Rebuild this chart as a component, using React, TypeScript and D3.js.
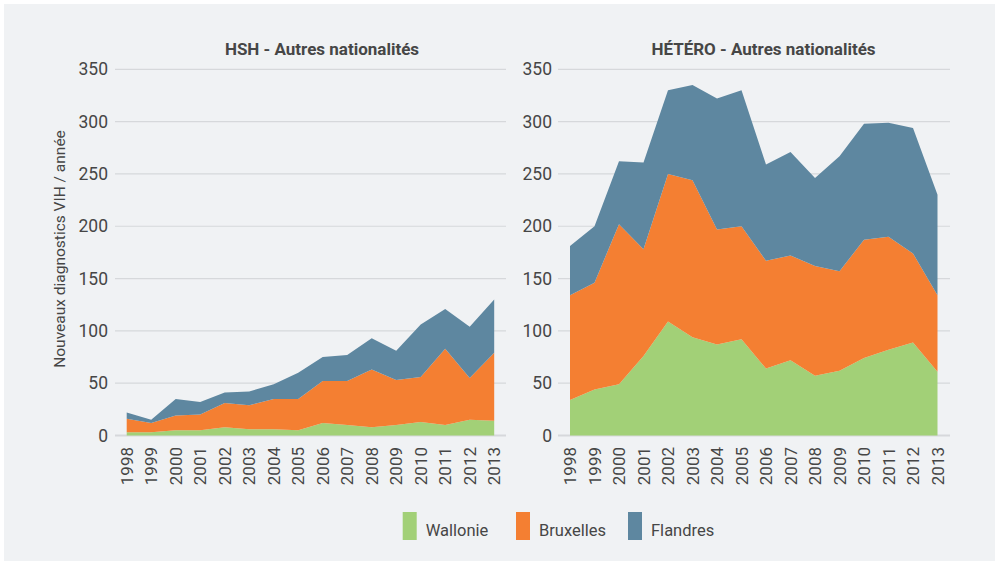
import React from "react";
import * as d3 from "d3";

const years = ["1998", "1999", "2000", "2001", "2002", "2003", "2004", "2005", "2006", "2007", "2008", "2009", "2010", "2011", "2012", "2013"];
const regions = ["Wallonie", "Bruxelles", "Flandres"];
const colors = ["#a2d077", "#f47f32", "#5e87a0"];
const yTicks = [0, 50, 100, 150, 200, 250, 300, 350];

// HSH - Autres nationalités
const hshWallonie = [3, 3, 5, 5, 8, 6, 6, 5, 12, 10, 8, 10, 13, 10, 15, 14];
const hshBruxelles = [13, 9, 14, 15, 23, 23, 29, 30, 40, 42, 55, 43, 43, 73, 40, 65];
const hshFlandres = [6, 3, 16, 12, 10, 13, 14, 25, 23, 25, 30, 28, 50, 38, 49, 51];

// HÉTÉRO - Autres nationalités
const hetWallonie = [34, 44, 49, 76, 109, 94, 87, 92, 64, 72, 57, 62, 74, 82, 89, 61];
const hetBruxelles = [100, 102, 153, 102, 141, 150, 110, 108, 103, 100, 105, 95, 113, 108, 85, 73];
const hetFlandres = [47, 54, 60, 83, 80, 91, 125, 130, 92, 99, 84, 110, 111, 109, 120, 96];

const font = "'Liberation Sans Narrow', 'Roboto', sans-serif";
const textColor = "#464646";

const App = () => {
    const svgRef = React.useRef(null);
    const width = 995;
    const height = 561;

    React.useEffect(() => {
        const svg = d3.select(svgRef.current);
        svg.selectAll("*").remove();

        svg.append("rect")
            .attr("x", 4).attr("y", 4)
            .attr("width", width - 4).attr("height", height - 4)
            .attr("fill", "#f0f2f4");

        const y = d3.scaleLinear().domain([0, 350]).range([435.5, 69.3]);

        const panels = [
            { title: "HSH - Autres nationalités", titleX: 322, x0: 126.7, grid: [115, 506], labelX: 108, data: [hshWallonie, hshBruxelles, hshFlandres] },
            { title: "HÉTÉRO - Autres nationalités", titleX: 763.5, x0: 570, grid: [558, 950], labelX: 552, data: [hetWallonie, hetBruxelles, hetFlandres] }
        ];

        panels.forEach(function(p) {
            const x = d3.scalePoint().domain(years).range([p.x0, p.x0 + 24.5 * 15]);
            const g = svg.append("g");

            // gridlines
            g.selectAll(".grid")
                .data(yTicks)
                .enter().append("line")
                .attr("x1", p.grid[0]).attr("x2", p.grid[1])
                .attr("y1", d => y(d)).attr("y2", d => y(d))
                .attr("stroke", "#d6d8db")
                .attr("stroke-width", d => d === 0 ? 2 : 1.2);

            const rows = years.map((yr, i) => {
                const r: any = { year: yr };
                regions.forEach((k, j) => { r[k] = p.data[j][i]; });
                return r;
            });
            const stack = d3.stack().keys(regions)(rows);
            const area = d3.area()
                .x((d: any) => x(d.data.year))
                .y0((d: any) => y(d[0]))
                .y1((d: any) => y(d[1]));

            g.selectAll(".layer")
                .data(stack)
                .enter().append("path")
                .attr("d", (d: any) => area(d))
                .attr("fill", (d, i) => colors[i]);

            // y tick labels
            g.selectAll(".ylab")
                .data(yTicks)
                .enter().append("text")
                .attr("x", p.labelX)
                .attr("y", d => y(d) + 6)
                .attr("text-anchor", "end")
                .attr("font-family", font)
                .attr("font-size", 17.5)
                .attr("fill", textColor)
                .text(d => d);

            // x tick labels (rotated)
            g.selectAll(".xlab")
                .data(years)
                .enter().append("text")
                .attr("transform", d => "translate(" + (x(d) + 6) + ",447) rotate(-90)")
                .attr("text-anchor", "end")
                .attr("font-family", font)
                .attr("font-size", 17)
                .attr("fill", textColor)
                .text(d => d);

            g.append("text")
                .attr("x", p.titleX).attr("y", 55)
                .attr("text-anchor", "middle")
                .attr("font-family", font)
                .attr("font-weight", "bold")
                .attr("font-size", 17)
                .attr("fill", textColor)
                .text(p.title);
        });

        svg.append("text")
            .attr("transform", "translate(65,249) rotate(-90)")
            .attr("text-anchor", "middle")
            .attr("font-family", font)
            .attr("font-size", 15.5)
            .attr("fill", textColor)
            .text("Nouveaux diagnostics VIH / année");

        // legend
        const legendX = [402.7, 516, 628];
        const legend = svg.selectAll(".legend")
            .data(regions)
            .enter().append("g")
            .attr("transform", (d, i) => "translate(" + legendX[i] + ",512)");
        legend.append("rect")
            .attr("width", 14).attr("height", 28)
            .attr("fill", (d, i) => colors[i]);
        legend.append("text")
            .attr("x", 23).attr("y", 23.5)
            .attr("font-family", font)
            .attr("font-size", 16.5)
            .attr("fill", textColor)
            .text(d => d);
    }, []);

    return (
        <svg ref={svgRef} width={width} height={height} style={{ display: "block", position: "absolute", left: 0, top: 0 }} />
    );
};

export default App;
